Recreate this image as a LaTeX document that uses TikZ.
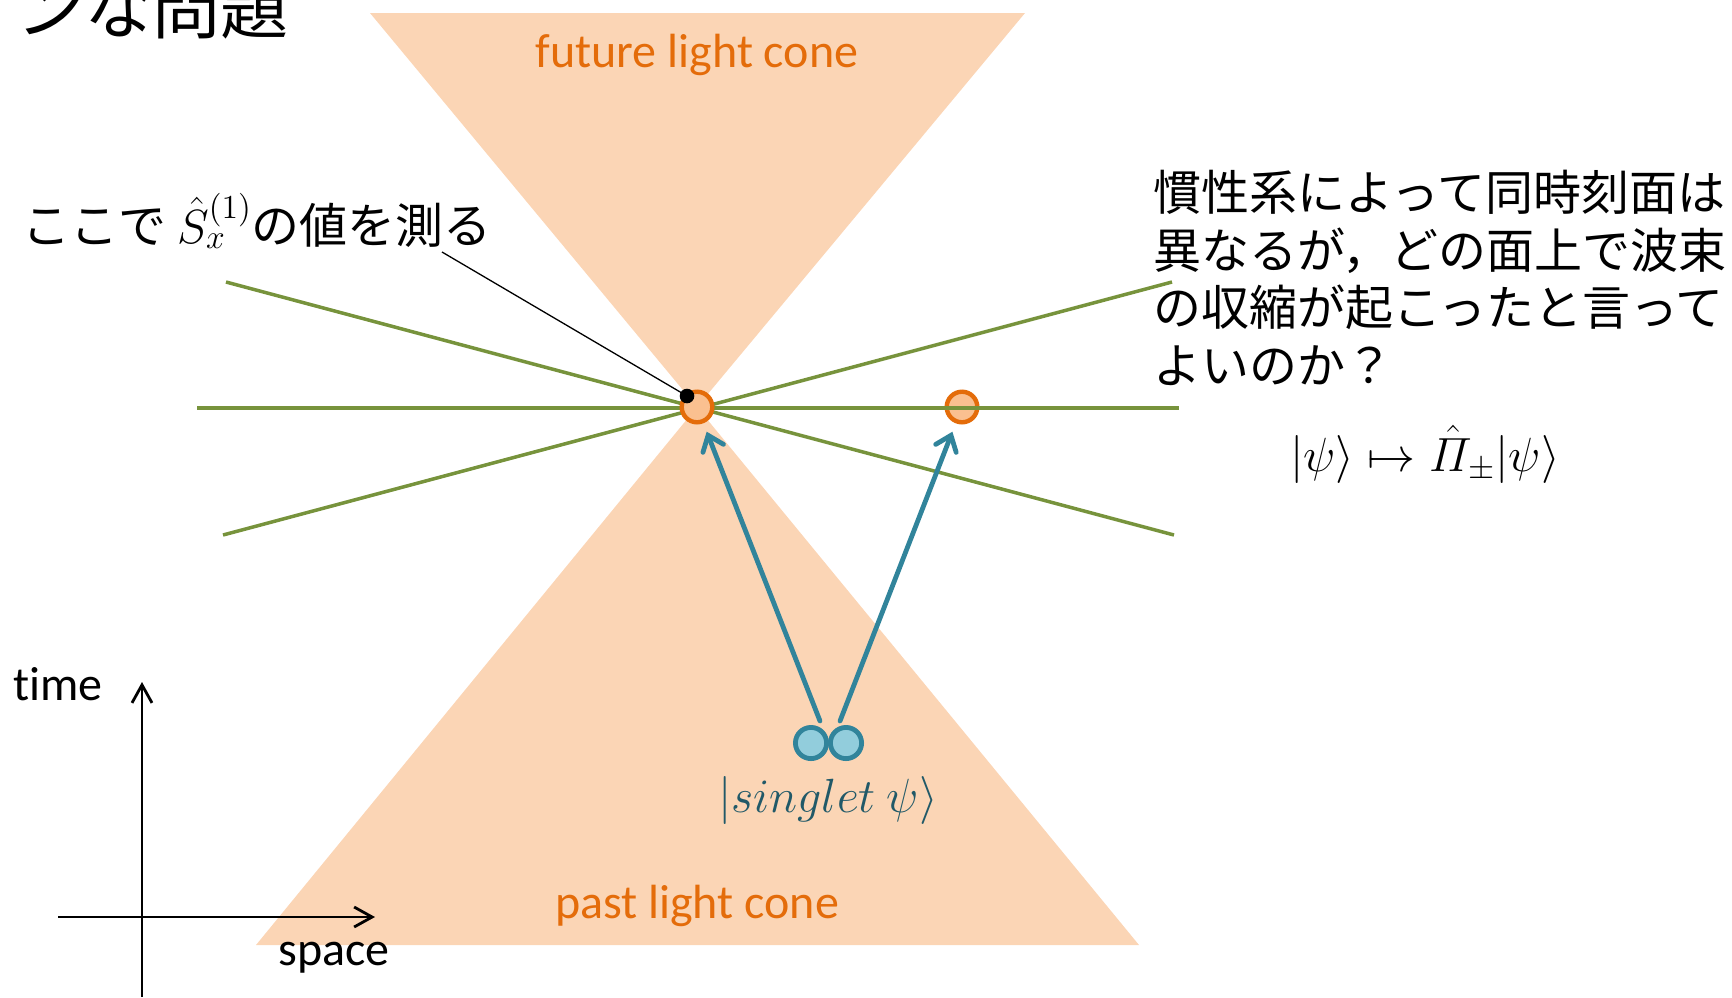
\RequirePackage{fix-cm}
\documentclass[tikz,border=0pt]{standalone}
\usepackage{amsmath}
\usepackage{fontspec}
\setmainfont{Carlito}[Ligatures=NoCommon]
\newfontfamily\jp{Noto Sans CJK JP}
\usetikzlibrary{arrows.meta}
\definecolor{conefill}{HTML}{FBD5B5}
\definecolor{otext}{HTML}{E46C0A}
\definecolor{oline}{HTML}{E46C0A}
\definecolor{ofill}{HTML}{FAC090}
\definecolor{sgreen}{HTML}{77933C}
\definecolor{tline}{HTML}{31849B}
\definecolor{tfill}{HTML}{92CDDC}
\definecolor{ttext}{HTML}{215968}
\begin{document}
\begin{tikzpicture}[x=0.5pt,y=-0.5pt,
  cone/.style={fill=conefill,draw=none},
  slice/.style={draw=sgreen,line width=1.75pt},
  ocirc/.style={circle,draw=oline,fill=ofill,line width=2.2pt,minimum size=15.3pt,inner sep=0pt},
  bcirc/.style={circle,draw=tline,fill=tfill,line width=2.4pt,minimum size=15.6pt,inner sep=0pt},
  bdot/.style={circle,fill=black,minimum size=7.3pt,inner sep=0pt},
  tarrow/.style={draw=tline,line width=2.4pt,line cap=round,-{Straight Barb[length=7pt,width=11pt,line cap=round]}},
  axis/.style={draw=black,line width=1.4pt,-{Straight Barb[length=9pt,width=10pt]}},
  lbl/.style={inner sep=0pt,font=\fontsize{24}{28.75}\selectfont},
  jlbl/.style={inner sep=0pt,font=\jp\fontsize{24}{28.75}\selectfont},
]
\useasboundingbox (0,0) rectangle (1732,997);
\clip (0,0) rectangle (1732,997);
\coordinate (apex) at (697,407);
% light cones
\fill[cone] (370,13) -- (1025,13) -- (apex) -- cycle;
\fill[cone] (256,945) -- (1139,945) -- (apex) -- cycle;
% far event
\node[ocirc] (o2) at (962,407) {};
% simultaneity slices
\coordinate (g1a) at (197,408); \coordinate (g1b) at (1179,408);
\coordinate (g2a) at (226,282); \coordinate (g2b) at (1174,535);
\coordinate (g3a) at (223,535); \coordinate (g3b) at (1172,282);
\draw[slice] (g1a) -- (g1b);
\draw[slice] (g2a) -- (g2b);
\draw[slice] (g3a) -- (g3b);
% near event
\node[ocirc] (o1) at (apex) {};
% pointer
\coordinate (ptr) at (442,252);
\node[bdot] (dot) at (687,396) {};
\draw[black,line width=0.65pt] (ptr) -- (dot.center);
% singlet pair
\node[bcirc] (b1) at (811,743) {};
\node[bcirc] (b2) at (846,743) {};
\coordinate (s1) at (820,721);
\coordinate (s2) at (840,721);
\draw[tarrow,shorten >=4.5pt] (s1) -- (o1);
\draw[tarrow,shorten >=4.5pt] (s2) -- (o2);
% texts
\node[lbl,text=otext,anchor=base] (fut) at (697,67) {future light cone};
\node[lbl,text=otext,anchor=base] (past) at (697,918) {past light cone};
\node[lbl,text=ttext,anchor=base] (sing) at (828,812) {$|singlet\ \psi\rangle$};
\node[jlbl,anchor=base west,font=\jp\fontsize{34}{40}\selectfont] (title) at (16,33) {ンな問題};
\node[jlbl,anchor=base west] (here) at (22,243) {ここで $\hat{S}_x^{(1)}$の値を測る};
\node[jlbl,anchor=north west,align=left] (q) at (1153,170) {慣性系によって同時刻面は\\異なるが，どの面上で波束\\の収縮が起こったと言って\\よいのか？};
\node[lbl,anchor=base] (proj) at (1425,471) {$|\psi\rangle \mapsto \hat{\varPi}_{\pm}|\psi\rangle$};
% axes
\coordinate (tb) at (142,997); \coordinate (tt) at (142,682);
\coordinate (sl) at (58,917); \coordinate (sr) at (375,917);
\draw[axis] (tb) -- (tt);
\draw[axis] (sl) -- (sr);
\node[lbl,anchor=base west] (time) at (13,700) {time};
\node[lbl,anchor=base west] (space) at (278,965) {space};
\end{tikzpicture}
\end{document}
